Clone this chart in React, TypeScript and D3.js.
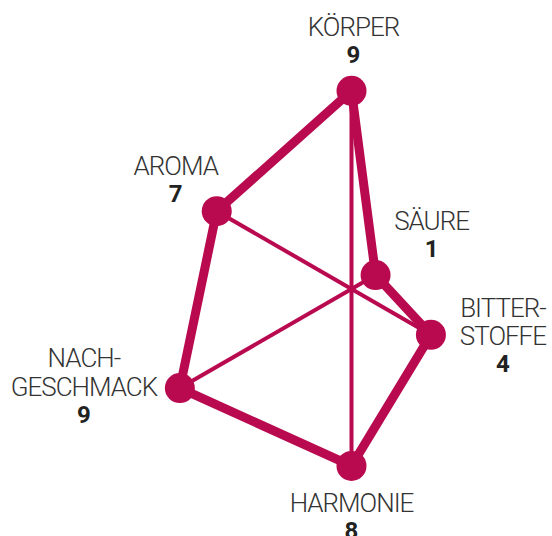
import * as d3 from 'd3';
import React, { useEffect, useRef } from 'react';

// tasting profile, clockwise from the top
const categories = ['KÖRPER', 'SÄURE', 'BITTERSTOFFE', 'HARMONIE', 'NACHGESCHMACK', 'AROMA'];
const labelLines = [['KÖRPER'], ['SÄURE'], ['BITTER-', 'STOFFE'], ['HARMONIE'], ['NACH-', 'GESCHMACK'], ['AROMA']];
const values = [9, 1, 4, 8, 9, 7];

// label nudges relative to the point (first baseline)
const labelNudge = [[2, -55], [56, -45], [72, -18], [0, 46], [-96, -21], [-41, -36]];

const params = {
    width: 552,
    height: 536,
    cx: 351.5,
    cy: 289,
    color: '#b90a50',
    lineHeight: 28.5,
};

export default function App() {
    const svgRef = useRef<SVGSVGElement>(null);

    useEffect(() => {
        const svg = d3.select(svgRef.current);
        svg.selectAll('*').remove();

        const r = d3.scaleLinear().domain([0, 10]).range([6.5, 219.5]);
        const angle = d3.scaleLinear().domain([0, categories.length]).range([0, 2 * Math.PI]);

        const pts = values.map((v, i) => {
            const a = angle(i);
            return [params.cx + r(v) * Math.sin(a), params.cy - r(v) * Math.cos(a)];
        });

        const g = svg.append('g');

        // spokes
        g.selectAll('line.spoke')
            .data(pts)
            .enter().append('line')
            .attr('class', 'spoke')
            .attr('x1', params.cx).attr('y1', params.cy)
            .attr('x2', d => d[0]).attr('y2', d => d[1])
            .attr('stroke', params.color)
            .attr('stroke-width', 4);

        // outline
        g.append('path')
            .attr('d', d3.line().curve(d3.curveLinearClosed)(pts as [number, number][]))
            .attr('fill', 'none')
            .attr('stroke', params.color)
            .attr('stroke-width', 9)
            .attr('stroke-linejoin', 'round');

        g.selectAll('circle.point')
            .data(pts)
            .enter().append('circle')
            .attr('class', 'point')
            .attr('cx', d => d[0]).attr('cy', d => d[1])
            .attr('r', 15)
            .attr('fill', params.color);

        // labels + values
        const labels = g.selectAll('g.label')
            .data(categories)
            .enter().append('g')
            .attr('class', 'label')
            .attr('transform', (d, i) => `translate(${pts[i][0] + labelNudge[i][0]},${pts[i][1] + labelNudge[i][1]})`);

        labels.each(function (d, i) {
            const el = d3.select(this);
            labelLines[i].forEach((line, j) => {
                el.append('text')
                    .attr('y', j * params.lineHeight)
                    .attr('text-anchor', 'middle')
                    .style('font-family', 'Roboto, sans-serif')
                    .style('font-weight', 300)
                    .style('font-size', '26px')
                    .style('letter-spacing', '-1px')
                    .attr('fill', '#333')
                    .text(line);
            });
            el.append('text')
                .attr('y', (labelLines[i].length - 1) * params.lineHeight + 27)
                .attr('text-anchor', 'middle')
                .style('font-family', 'Roboto, sans-serif')
                .style('font-weight', 700)
                .style('font-size', '24px')
                .attr('fill', '#222')
                .text(values[i]);
        });
    }, []);

    return (
        <svg ref={svgRef} width={params.width} height={params.height}
            style={{ position: 'absolute', left: 0, top: 0, background: '#fff' }} />
    );
}
